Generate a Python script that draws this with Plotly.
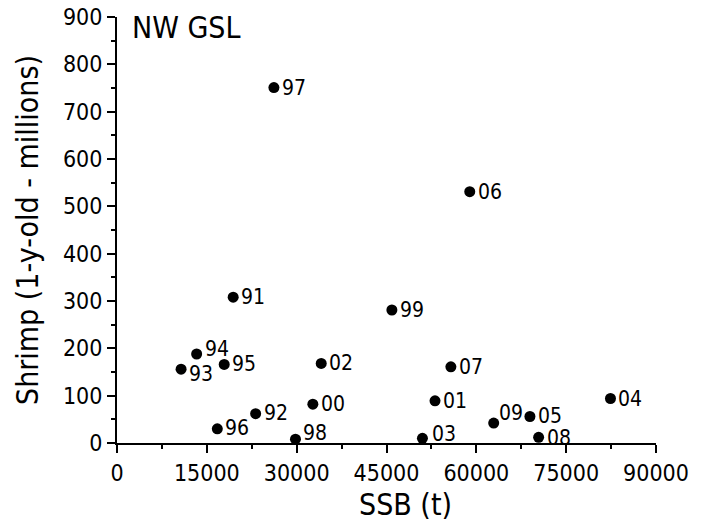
import plotly.graph_objects as go

# Northern shrimp recruitment vs. spawning stock biomass, NW Gulf of St. Lawrence
years = ["91", "92", "93", "94", "95", "96", "97", "98", "99", "00",
         "01", "02", "03", "04", "05", "06", "07", "08", "09"]
ssb_t = [19400, 23150, 10700, 13300, 17900, 16750, 26200, 29800, 45900, 32700,
         53100, 34100, 51000, 82400, 68950, 58900, 55750, 70400, 62900]
recruits_millions = [308, 62, 156, 188, 166, 30, 751, 8, 281, 82,
                     89, 168, 10, 94, 56, 531, 161, 12, 42]

# label nudges in pixels (dx, dy) so year tags sit clear of neighbours
label_nudge = {
    "93": (0, -5), "94": (0, 5), "98": (0, 6), "03": (2, 4),
    "09": (-3, 10), "92": (0, 1), "96": (0, 1), "08": (0, -1),
}

FONT = "DejaVu Sans Condensed, DejaVu Sans, sans-serif"

fig = go.Figure()
fig.add_trace(go.Scatter(
    x=ssb_t, y=recruits_millions, mode="markers",
    marker=dict(size=11, color="black"),
    hoverinfo="text", text=years, cliponaxis=False,
))

for yr, xv, yv in zip(years, ssb_t, recruits_millions):
    dx, dy = label_nudge.get(yr, (0, 0))
    fig.add_annotation(
        x=xv, y=yv, text=yr, showarrow=False,
        xanchor="left", yanchor="middle",
        xshift=6 + dx, yshift=dy,
        font=dict(family=FONT, size=21, color="black"),
    )

fig.add_annotation(
    x=0.024, y=1.0, xref="paper", yref="paper", text="NW GSL",
    showarrow=False, xanchor="left", yanchor="top", yshift=9,
    font=dict(family=FONT, size=30, color="black"),
)
fig.add_annotation(
    x=0.5, y=0, xref="paper", yref="paper", text="SSB (t)",
    showarrow=False, xanchor="center", yanchor="top", xshift=19, yshift=-42,
    font=dict(family=FONT, size=30, color="black"),
)

axis_common = dict(
    showline=True, linecolor="black", linewidth=2,
    ticks="outside", ticklen=8, tickwidth=2, tickcolor="black",
    showgrid=False, zeroline=False, automargin=False,
    tickfont=dict(family=FONT, size=23, color="black"),
    minor=dict(ticks="outside", ticklen=4, tickwidth=2, tickcolor="black"),
)

fig.update_layout(
    width=702, height=527,
    margin=dict(l=117, r=46, t=17, b=84),
    paper_bgcolor="white", plot_bgcolor="white",
    showlegend=False,
    xaxis=dict(range=[0, 90000], tick0=0, dtick=15000, tickformat="d",
               minor_dtick=7500, **axis_common),
    yaxis=dict(range=[0, 900], tick0=0, dtick=100, minor_dtick=50,
               title=dict(text="Shrimp (1-y-old - millions)", standoff=15,
                          font=dict(family=FONT, size=30, color="black")),
               **axis_common),
)

fig.write_html("out.html")
